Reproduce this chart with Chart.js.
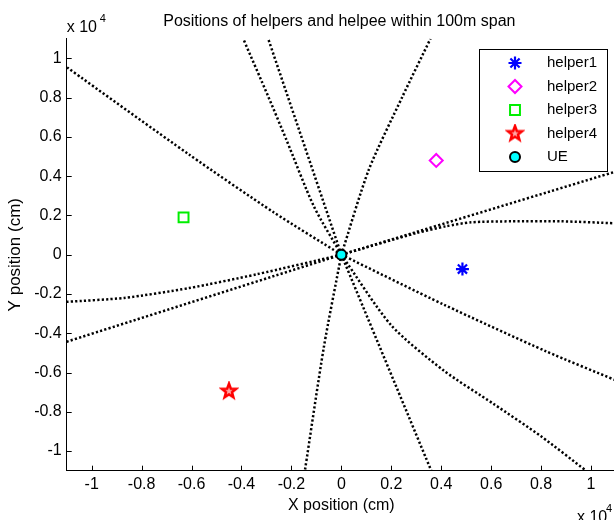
<!DOCTYPE html>
<html>
<head>
<meta charset="utf-8">
<title>Positions of helpers and helpee</title>
<script src="https://cdn.jsdelivr.net/npm/chart.js@4.4.1/dist/chart.umd.min.js"></script>
<style>
  html, body { margin: 0; padding: 0; background: #fff; overflow: hidden; }
  #wrap { position: relative; width: 616px; height: 520px; }
</style>
</head>
<body>
<div id="wrap"><canvas id="positions" width="616" height="520"></canvas></div>
<script>
// axis ticks, in units of 10^4 cm
const tickValues = [-1, -0.8, -0.6, -0.4, -0.2, 0, 0.2, 0.4, 0.6, 0.8, 1];
const tickLabels = ['-1', '-0.8', '-0.6', '-0.4', '-0.2', '0', '0.2', '0.4', '0.6', '0.8', '1'];

// node positions (x 10^4 cm)
const nodeNames = ['helper1', 'helper2', 'helper3', 'helper4', 'UE'];
const nodeX = [0.485, 0.38, -0.632, -0.45, 0];
const nodeY = [-0.073, 0.48, 0.19, -0.695, 0];

// dotted rays leaving the UE
const ray1X = [0, -0.27, -0.61, -1.1];
const ray1Y = [0, 0.215, 0.51, 0.955];
const ray2X = [0, -0.11, -0.22, -0.293, -0.393];
const ray2Y = [0, 0.246, 0.585, 0.806, 1.1];
const ray3X = [0, -0.293];
const ray3Y = [0, 1.1];
const ray4X = [0, 0.11, 0.245, 0.357];
const ray4Y = [0, 0.433, 0.806, 1.1];
const ray5X = [0, 1.1];
const ray5Y = [0, 0.424];
const ray6X = [0, 0.3, 0.42, 0.52, 0.68, 0.88, 1.1];
const ray6Y = [0, 0.11, 0.145, 0.165, 0.17, 0.17, 0.16];
const ray7X = [0, 0.41, 0.82, 1.1];
const ray7Y = [0, -0.254, -0.492, -0.64];
const ray8X = [0, 0.2, 0.41, 0.61, 0.8, 0.98];
const ray8Y = [0, -0.36, -0.59, -0.76, -0.925, -1.1];
const ray9X = [0, 0.36];
const ray9Y = [0, -1.1];
const ray10X = [0, -0.07, -0.146];
const ray10Y = [0, -0.47, -1.1];
const ray11X = [0, -0.34, -0.61, -0.87, -1.1];
const ray11Y = [0, -0.1, -0.17, -0.22, -0.24];
const ray12X = [0, -1.1];
const ray12Y = [0, -0.443];

const rays = [
  [ray1X, ray1Y], [ray2X, ray2Y], [ray3X, ray3Y], [ray4X, ray4Y],
  [ray5X, ray5Y], [ray6X, ray6Y], [ray7X, ray7Y], [ray8X, ray8Y],
  [ray9X, ray9Y], [ray10X, ray10Y], [ray11X, ray11Y], [ray12X, ray12Y]
];

const FONT = '"Liberation Sans", Arial, sans-serif';

// Chart.js has no pentagram, so build one as an image point style
function pentagram(r, color, lw) {
  const c = document.createElement('canvas');
  const s = Math.ceil(2 * r + lw + 2);
  c.width = s;
  c.height = s;
  const g = c.getContext('2d');
  g.translate(s / 2, s / 2);
  g.beginPath();
  for (let k = 0; k < 10; k++) {
    const rad = k % 2 ? r * 0.42 : r;
    const a = -Math.PI / 2 + k * Math.PI / 5;
    g.lineTo(rad * Math.cos(a), rad * Math.sin(a));
  }
  g.closePath();
  g.fillStyle = 'rgba(255,0,0,0.35)';
  g.fill();
  g.strokeStyle = color;
  g.lineWidth = lw;
  g.lineJoin = 'miter';
  g.stroke();
  return c;
}

const nodeStyles = [
  { pointStyle: 'star', pointRadius: 6.5, pointBorderWidth: 2.2, pointBorderColor: '#0000ff', pointBackgroundColor: '#0000ff' },
  { pointStyle: 'rectRot', pointRadius: 6.5, pointBorderWidth: 2, pointBorderColor: '#ff00ff', pointBackgroundColor: 'rgba(0,0,0,0)' },
  { pointStyle: 'rect', pointRadius: 7, pointBorderWidth: 2, pointBorderColor: '#00ee00', pointBackgroundColor: 'rgba(0,0,0,0)' },
  { pointStyle: pentagram(7.5, '#ff0000', 2.5), pointRadius: 8, pointBorderWidth: 0, pointBorderColor: '#ff0000', pointBackgroundColor: '#ff0000' },
  { pointStyle: 'circle', pointRadius: 5, pointBorderWidth: 2, pointBorderColor: '#000000', pointBackgroundColor: '#00ffff' }
];

const datasets = [];
nodeNames.forEach((name, i) => {
  datasets.push(Object.assign({
    label: name,
    data: [{ x: nodeX[i], y: nodeY[i] }],
    showLine: false,
    order: 0
  }, nodeStyles[i]));
});
rays.forEach(([xs, ys], i) => {
  datasets.push({
    label: 'ray' + (i + 1),
    data: xs.map((x, k) => ({ x: x, y: ys[k] })),
    showLine: true,
    borderColor: '#000',
    borderWidth: 2.5,
    borderDash: [2.2, 2.2],
    borderCapStyle: 'butt',
    tension: 0.25,
    pointRadius: 0,
    order: 1
  });
});

// MATLAB-style inward tick marks
const inwardTicks = {
  id: 'inwardTicks',
  afterDraw(chart) {
    const { ctx, chartArea: a, scales: { x, y } } = chart;
    ctx.save();
    ctx.strokeStyle = '#000';
    ctx.lineWidth = 1;
    ctx.beginPath();
    x.ticks.forEach(t => {
      const px = Math.round(x.getPixelForValue(t.value)) + 0.5;
      ctx.moveTo(px, a.bottom);
      ctx.lineTo(px, a.bottom - 5);
    });
    y.ticks.forEach(t => {
      const py = Math.round(y.getPixelForValue(t.value)) + 0.5;
      ctx.moveTo(a.left, py);
      ctx.lineTo(a.left + 5, py);
    });
    ctx.stroke();
    ctx.restore();
  }
};

// title over the plot area and the x 10^4 exponent labels
const annotations = {
  id: 'annotations',
  afterDraw(chart) {
    const { ctx, chartArea: a } = chart;
    ctx.save();
    ctx.fillStyle = '#000';
    ctx.textAlign = 'center';
    ctx.textBaseline = 'middle';
    ctx.font = '16px ' + FONT;
    ctx.fillText('Positions of helpers and helpee within 100m span', (a.left + a.right) / 2 - 2, 22);

    ctx.textAlign = 'left';
    ctx.textBaseline = 'alphabetic';
    ctx.font = '16px ' + FONT;
    ctx.fillText('x 10', a.left, 32);
    ctx.font = '11px ' + FONT;
    ctx.fillText('4', a.left + 33, 22);

    ctx.font = '16px ' + FONT;
    ctx.fillText('x 10', 577, 522);
    ctx.font = '11px ' + FONT;
    ctx.fillText('4', 606, 512);
    ctx.restore();
  }
};

// boxed legend inside the plot
const legendBox = {
  id: 'legendBox',
  afterDatasetsDraw(chart) {
    const ctx = chart.ctx;
    ctx.save();
    ctx.fillStyle = '#fff';
    ctx.fillRect(479, 49, 128, 122);
    ctx.strokeStyle = '#000';
    ctx.lineWidth = 1;
    ctx.strokeRect(479.5, 49.5, 128, 122);
    nodeNames.forEach((name, i) => {
      const ds = chart.data.datasets[i];
      const y = 63 + i * 23.5;
      ctx.fillStyle = ds.pointBackgroundColor;
      ctx.strokeStyle = ds.pointBorderColor;
      ctx.lineWidth = ds.pointBorderWidth;
      Chart.helpers.drawPoint(ctx, {
        pointStyle: ds.pointStyle,
        radius: ds.pointRadius,
        borderWidth: ds.pointBorderWidth,
        rotation: 0
      }, 515, y);
      ctx.fillStyle = '#000';
      ctx.font = '15px ' + FONT;
      ctx.textAlign = 'left';
      ctx.textBaseline = 'middle';
      ctx.fillText(name, 547, y);
    });
    ctx.restore();
  }
};

const tickFont = { family: FONT, size: 16 };

new Chart(document.getElementById('positions'), {
  type: 'scatter',
  data: { datasets: datasets },
  options: {
    responsive: false,
    animation: false,
    devicePixelRatio: 1,
    layout: { autoPadding: false, padding: { top: 38.7, left: 0, right: 0, bottom: 0 } },
    plugins: {
      legend: { display: false },
      tooltip: { enabled: false },
      title: { display: false }
    },
    scales: {
      x: {
        type: 'linear',
        min: -1.1,
        max: 1.1,
        afterBuildTicks: s => { s.ticks = tickValues.map(v => ({ value: v })); },
        afterFit: s => { s.height = 49.3; },
        grid: { display: false, drawTicks: false },
        border: { display: true, color: '#000', width: 1 },
        ticks: {
          callback: v => tickLabels[tickValues.indexOf(v)],
          font: tickFont, color: '#000', padding: 4,
          maxRotation: 0, autoSkip: false
        },
        title: {
          display: true, text: 'X position (cm)', color: '#000',
          font: { family: FONT, size: 16 }, padding: { top: 0, bottom: 5 }
        }
      },
      y: {
        type: 'linear',
        min: -1.1,
        max: 1.1,
        afterBuildTicks: s => { s.ticks = tickValues.map(v => ({ value: v })); },
        afterFit: s => { s.width = 66.7; },
        grid: { display: false, drawTicks: false },
        border: { display: true, color: '#000', width: 1 },
        ticks: {
          callback: v => tickLabels[tickValues.indexOf(v)],
          font: tickFont, color: '#000', padding: 5, autoSkip: false
        },
        title: {
          display: true, text: 'Y position (cm)', color: '#000',
          font: { family: FONT, size: 17 }, padding: { top: 5, bottom: 0 }
        }
      }
    }
  },
  plugins: [inwardTicks, legendBox, annotations]
});
</script>
</body>
</html>
